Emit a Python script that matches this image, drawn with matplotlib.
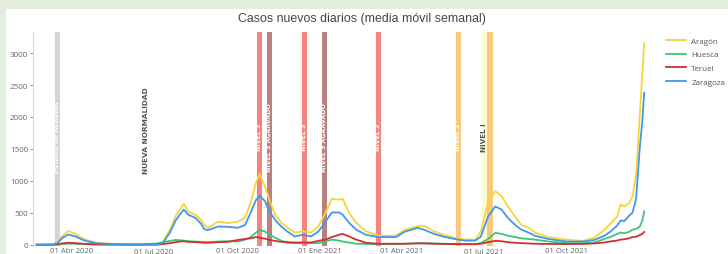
import pandas as pd
import matplotlib
matplotlib.use("Agg")
import matplotlib.pyplot as plt
from matplotlib.patches import Rectangle

# casos nuevos diarios, media movil semanal
fechas = ["2020-02-22", "2020-03-10", "2020-03-16", "2020-03-21", "2020-03-28",
          "2020-04-05", "2020-04-14", "2020-04-27", "2020-05-17", "2020-06-13",
          "2020-07-05", "2020-07-11", "2020-07-19", "2020-07-25", "2020-07-30",
          "2020-08-03", "2020-08-08", "2020-08-16", "2020-08-22", "2020-08-26",
          "2020-08-30", "2020-09-10", "2020-09-21", "2020-10-02", "2020-10-10",
          "2020-10-16", "2020-10-22", "2020-10-26", "2020-11-01", "2020-11-06",
          "2020-11-12", "2020-11-19", "2020-11-26", "2020-12-04", "2020-12-13",
          "2020-12-22", "2020-12-30", "2021-01-07", "2021-01-14", "2021-01-22",
          "2021-01-26", "2021-02-02", "2021-02-10", "2021-02-21", "2021-03-07",
          "2021-03-26", "2021-04-05", "2021-04-19", "2021-04-26", "2021-05-07",
          "2021-05-18", "2021-05-30", "2021-06-10", "2021-06-22", "2021-06-28",
          "2021-07-06", "2021-07-14", "2021-07-21", "2021-07-28", "2021-08-05",
          "2021-08-12", "2021-08-20", "2021-08-27", "2021-09-11", "2021-10-01",
          "2021-10-19", "2021-11-01", "2021-11-12", "2021-11-20", "2021-11-26",
          "2021-11-30", "2021-12-04", "2021-12-09", "2021-12-13", "2021-12-17",
          "2021-12-21", "2021-12-24", "2021-12-26"]

aragon = [0, 3, 30, 130, 215, 170, 90, 35, 10, 4,
          5, 40, 250, 450, 560, 640, 520, 470, 390, 310,
          265, 360, 340, 360, 420, 660, 970, 1110, 910, 700,
          470, 345, 265, 190, 210, 190, 285, 500, 720, 705,
          720, 500, 345, 210, 140, 140, 235, 290, 300, 210,
          155, 110, 80, 80, 205, 660, 840, 760, 600, 440,
          310, 265, 190, 120, 80, 60, 110, 235, 350, 440,
          630, 600, 650, 750, 1100, 2000, 2700, 3150]
huesca = [0, 0, 3, 10, 18, 15, 8, 4, 2, 3,
          20, 40, 60, 75, 70, 65, 55, 50, 45, 40,
          40, 50, 55, 50, 80, 120, 190, 235, 205, 160,
          110, 65, 30, 25, 25, 25, 25, 50, 80, 65,
          50, 35, 15, 12, 10, 10, 15, 25, 25, 20,
          15, 12, 10, 12, 25, 90, 185, 170, 140, 120,
          100, 90, 80, 50, 25, 25, 35, 90, 130, 170,
          190, 180, 200, 235, 250, 280, 380, 520]
teruel = [0, 1, 5, 20, 30, 25, 15, 6, 2, 1,
          2, 10, 25, 40, 50, 55, 45, 40, 35, 30,
          30, 40, 45, 75, 90, 100, 120, 110, 95, 75,
          60, 45, 40, 35, 35, 35, 60, 80, 120, 155,
          170, 130, 80, 30, 15, 15, 15, 20, 20, 15,
          12, 10, 8, 8, 15, 40, 60, 55, 40, 30,
          25, 20, 15, 12, 10, 12, 20, 35, 55, 65,
          80, 85, 100, 120, 125, 150, 170, 200]
zaragoza = [0, 2, 25, 100, 160, 130, 70, 25, 8, 3,
            4, 30, 200, 380, 480, 550, 470, 420, 330, 240,
            230, 285, 280, 265, 310, 500, 700, 770, 680, 520,
            390, 285, 205, 130, 155, 130, 205, 360, 505, 505,
            470, 345, 235, 155, 120, 120, 205, 265, 235, 170,
            125, 90, 65, 65, 125, 440, 600, 550, 420, 310,
            235, 190, 140, 90, 50, 50, 75, 140, 220, 300,
            380, 370, 450, 500, 720, 1500, 1950, 2380]

# medidas (franjas verticales)
franja_ini = ["2020-03-13", "2020-10-23", "2020-11-03", "2020-12-12", "2021-01-03",
              "2021-03-04", "2021-05-31", "2021-06-29", "2021-07-05"]
franja_fin = ["2020-03-19", "2020-10-29", "2020-11-09", "2020-12-18", "2021-01-09",
              "2021-03-10", "2021-06-06", "2021-07-05", "2021-07-12"]
franja_txt = ["ESTADO DE ALARMA", "NIVEL 3", "NIVEL 3 AGRAVADO", "NIVEL 3",
              "NIVEL 3 AGRAVADO", "NIVEL 2", "NIVEL 2", "NIVEL I", ""]
franja_col = ["#d4d4d4", "#f4847c", "#b9807e", "#f4847c", "#b9807e",
              "#f4847c", "#fbc77c", "#fcfbd0", "#fbc77c"]

ticks = ["2020-04-01", "2020-07-01", "2020-10-01", "2021-01-01",
         "2021-04-01", "2021-07-01", "2021-10-01"]
tick_lbl = ["01 Abr 2020", "01 Jul 2020", "01 Oct 2020", "01 Ene 2021",
            "01 Abr 2021", "01 Jul 2021", "01 Oct 2021"]

df = pd.DataFrame({"fecha": pd.to_datetime(fechas), "Aragón": aragon,
                   "Huesca": huesca, "Teruel": teruel, "Zaragoza": zaragoza})

fig = plt.figure(figsize=(7.28, 2.55), dpi=100, facecolor="#e3efda")
fondo = Rectangle((6 / 728, 0), 1, 1 - 10 / 255, transform=fig.transFigure,
                  facecolor="white", edgecolor="none", zorder=-10)
fig.patches.append(fondo)
ax = fig.add_axes([33 / 728, 1 - 247 / 255, (646 - 33) / 728, (247 - 33) / 255])
ax.set_zorder(2)
ax.set_facecolor("none")

for ini, fin, txt, col in zip(franja_ini, franja_fin, franja_txt, franja_col):
    ax.axvspan(pd.Timestamp(ini), pd.Timestamp(fin), color=col, lw=0, zorder=1)
    if txt:
        mid = pd.Timestamp(ini) + (pd.Timestamp(fin) - pd.Timestamp(ini)) / 2
        tc = "#555555" if txt == "NIVEL I" else "white"
        ax.text(mid, 1700, txt, rotation=90, ha="center", va="center", color=tc,
                fontsize=4.5 if tc == "white" else 5.2, fontweight="bold", zorder=2)

ax.text(pd.Timestamp("2020-06-22"), 1800, "NUEVA NORMALIDAD", rotation=90,
        ha="center", va="center", color="#555555", fontsize=5.3, fontweight="bold")

colores = {"Aragón": "#f5d53a", "Huesca": "#3dc47c", "Teruel": "#d32f2f",
           "Zaragoza": "#3f97ee"}
for nombre, col in colores.items():
    ax.plot(df["fecha"], df[nombre], color=col, lw=1.3, label=nombre, zorder=3)

ax.set_xlim(pd.Timestamp("2020-02-18"), pd.Timestamp("2021-12-28"))
ax.set_ylim(-20, 3330)
ax.set_yticks(range(0, 3001, 500))
ax.set_xticks(pd.to_datetime(ticks))
ax.set_xticklabels(tick_lbl)
ax.tick_params(axis="y", labelsize=5.8, colors="#666666", length=2, width=0.5, pad=1.5)
ax.tick_params(axis="x", labelsize=5.6, colors="#666666", length=0, pad=1)
for lbl in ax.get_xticklabels() + ax.get_yticklabels():
    lbl.set_family("Open Sans")
for s in ["top", "right", "bottom"]:
    ax.spines[s].set_visible(False)
ax.spines["left"].set_color("#cccccc")
ax.spines["left"].set_linewidth(0.6)

fig.text(0.497, 1 - 19 / 255, "Casos nuevos diarios (media móvil semanal)",
         ha="center", va="center", fontsize=8.9, color="#444444",
         family="Liberation Sans")

leg = ax.legend(loc="upper left", bbox_to_anchor=(1.02, 1.01), frameon=False,
                prop={"family": "Open Sans", "size": 5.8}, handlelength=2.6,
                labelspacing=0.75, handletextpad=0.6)
for t in leg.get_texts():
    t.set_color("#555555")

fig.savefig("out.png", dpi=100, facecolor=fig.get_facecolor())
